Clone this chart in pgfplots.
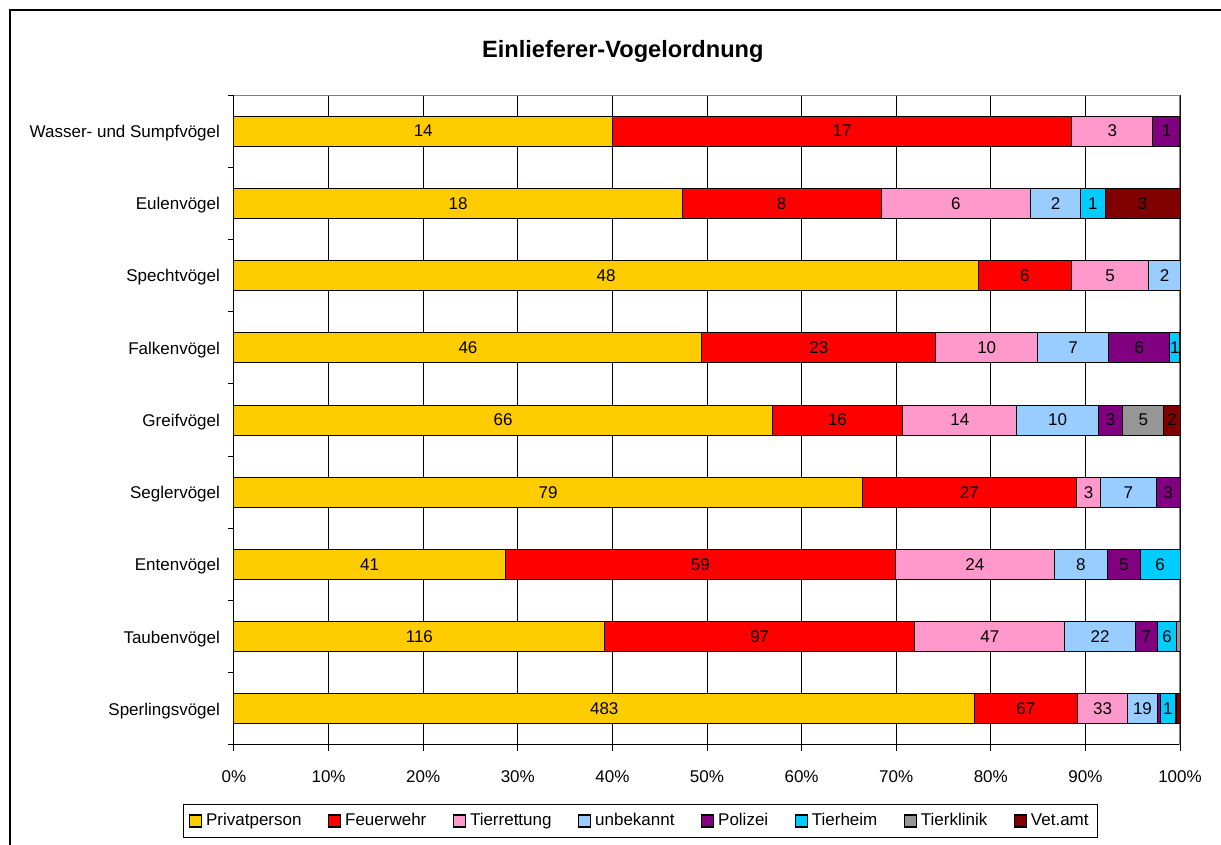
\documentclass[border=0pt]{standalone}
\usepackage{fontspec}
\setmainfont{Liberation Sans}
\usepackage{pgfplots}
\usepackage{pgfplotstable}
\pgfplotsset{compat=1.18}

\definecolor{cP}{HTML}{FFCC00}
\definecolor{cF}{HTML}{FF0000}
\definecolor{cT}{HTML}{FF99CC}
\definecolor{cU}{HTML}{99CCFF}
\definecolor{cPo}{HTML}{800080}
\definecolor{cH}{HTML}{00CCFF}
\definecolor{cK}{HTML}{969696}
\definecolor{cV}{HTML}{800000}

% counts per category (y=0 bottom: Sperlingsvoegel ... y=8 top: Wasser- und Sumpfvoegel)
\pgfplotstableread{
y P F T U Po H K V LP LF LT LU LPo LH LK LV
0 483 67 33 19 2 10 1 2 483 67 33 19 {} 1 {} {}
1 116 97 47 22 7 6 1 0 116 97 47 22 7 6 {} {}
2 41 59 24 8 5 6 0 0 41 59 24 8 5 6 {} {}
3 79 27 3 7 3 0 0 0 79 27 3 7 3 {} {} {}
4 66 16 14 10 3 0 5 2 66 16 14 10 3 {} 5 2
5 46 23 10 7 6 1 0 0 46 23 10 7 6 1 {} {}
6 48 6 5 2 0 0 0 0 48 6 5 2 {} {} {} {}
7 18 8 6 2 0 1 0 3 18 8 6 2 {} 1 {} 3
8 14 17 3 0 1 0 0 0 14 17 3 {} 1 {} {} {}
}\data

\newcommand\tot{(\thisrow{P}+\thisrow{F}+\thisrow{T}+\thisrow{U}+\thisrow{Po}+\thisrow{H}+\thisrow{K}+\thisrow{V})}

\pgfplotsset{
  geom/.style={
    at={(117pt,50pt)}, anchor=south west,
    scale only axis, width=473pt, height=325pt,
    xmin=0, xmax=100, ymin=-0.5, ymax=8.5,
  },
  lab/.style={draw=none, mark=none, nodes near coords, point meta=explicit symbolic,
    every node near coord/.append style={anchor=center, font=\fontsize{8.5}{10}\selectfont, inner sep=0pt}},
}

\begin{document}
\begin{tikzpicture}[font=\fontsize{8.5}{10}\selectfont]
\useasboundingbox (0,0) rectangle (610.5pt,422.5pt);
\draw[line width=1.2pt] (5pt,-5pt) -- (5pt,417.5pt) -- (620pt,417.5pt);
\begin{axis}[geom,
  xbar stacked, bar width=15pt,
  axis lines*=left,
  axis line style={black, line width=0.5pt},
  tick align=outside,
  major tick length=3pt,
  tick style={black, line width=0.5pt},
  xtick={0,10,...,100},
  xticklabels={0\%,10\%,20\%,30\%,40\%,50\%,60\%,70\%,80\%,90\%,100\%},
  xticklabel style={yshift=-6.5pt},
  xmajorgrids=true,
  grid style={black, line width=0.5pt},
  ytick={-0.5,0.5,...,8.5},
  yticklabels={},
  extra y ticks={0,1,2,3,4,5,6,7,8},
  extra y tick labels={Sperlingsvögel,Taubenvögel,Entenvögel,Seglervögel,Greifvögel,Falkenvögel,Spechtvögel,Eulenvögel,Wasser- und Sumpfvögel},
  extra y tick style={tick style={draw=none}, yticklabel style={xshift=-0.5pt, yshift=-1pt}},
  title={Einlieferer-Vogelordnung},
  title style={at={(0.411,1.072)}, anchor=center, yshift=-7.5pt, font=\bfseries\fontsize{11.8}{14}\selectfont},
  legend columns=8,
  legend style={at={(0.430,-0.117)}, anchor=center, draw=black, line width=0.5pt,
    font=\fontsize{8.5}{10}\selectfont, inner xsep=2.5pt, inner ysep=2.5pt,
    /tikz/every even column/.append style={column sep=11.2pt}},
  legend image code/.code={\draw[#1,draw=black,line width=0.6pt] (0pt,-3pt) rectangle (6pt,3pt);},
  every axis plot/.append style={draw=black, line width=0.5pt},
]
\addplot[fill=cP] table[x expr={100*\thisrow{P}/\tot}, y=y] {\data};
\addplot[fill=cF] table[x expr={100*\thisrow{F}/\tot}, y=y] {\data};
\addplot[fill=cT] table[x expr={100*\thisrow{T}/\tot}, y=y] {\data};
\addplot[fill=cU] table[x expr={100*\thisrow{U}/\tot}, y=y] {\data};
\addplot[fill=cPo] table[x expr={100*\thisrow{Po}/\tot}, y=y] {\data};
\addplot[fill=cH] table[x expr={100*\thisrow{H}/\tot}, y=y] {\data};
\addplot[fill=cK] table[x expr={100*\thisrow{K}/\tot}, y=y] {\data};
\addplot[fill=cV] table[x expr={100*\thisrow{V}/\tot}, y=y] {\data};
\legend{Privatperson,Feuerwehr,Tierrettung,unbekannt,Polizei,Tierheim,Tierklinik,Vet.amt}
\draw[gray, line width=0.6pt] (rel axis cs:0,1) -- (rel axis cs:1,1) -- (rel axis cs:1,0);
\end{axis}
\begin{axis}[geom, hide axis]
\addplot[lab] table[x expr={100*(0.5*\thisrow{P})/\tot}, y=y, meta=LP] {\data};
\addplot[lab] table[x expr={100*(\thisrow{P}+0.5*\thisrow{F})/\tot}, y=y, meta=LF] {\data};
\addplot[lab] table[x expr={100*(\thisrow{P}+\thisrow{F}+0.5*\thisrow{T})/\tot}, y=y, meta=LT] {\data};
\addplot[lab] table[x expr={100*(\thisrow{P}+\thisrow{F}+\thisrow{T}+0.5*\thisrow{U})/\tot}, y=y, meta=LU] {\data};
\addplot[lab] table[x expr={100*(\thisrow{P}+\thisrow{F}+\thisrow{T}+\thisrow{U}+0.5*\thisrow{Po})/\tot}, y=y, meta=LPo] {\data};
\addplot[lab] table[x expr={100*(\thisrow{P}+\thisrow{F}+\thisrow{T}+\thisrow{U}+\thisrow{Po}+0.5*\thisrow{H})/\tot}, y=y, meta=LH] {\data};
\addplot[lab] table[x expr={100*(\thisrow{P}+\thisrow{F}+\thisrow{T}+\thisrow{U}+\thisrow{Po}+\thisrow{H}+0.5*\thisrow{K})/\tot}, y=y, meta=LK] {\data};
\addplot[lab] table[x expr={100*(\thisrow{P}+\thisrow{F}+\thisrow{T}+\thisrow{U}+\thisrow{Po}+\thisrow{H}+\thisrow{K}+0.5*\thisrow{V})/\tot}, y=y, meta=LV] {\data};
\end{axis}
\end{tikzpicture}
\end{document}
